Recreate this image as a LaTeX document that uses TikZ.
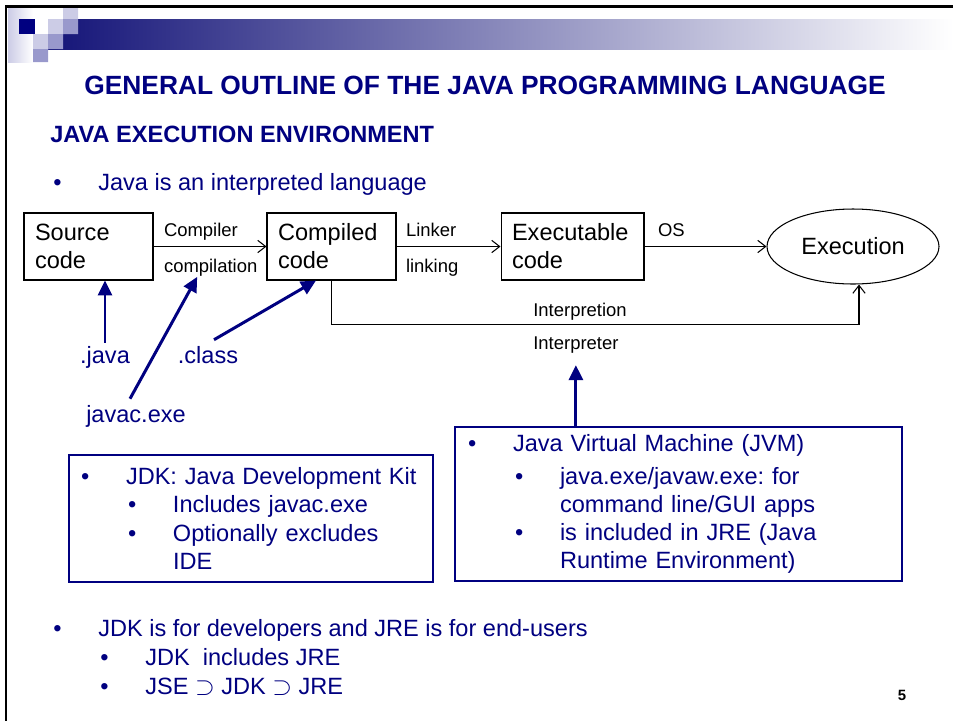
\documentclass[tikz,border=0pt]{standalone}
\usepackage{fontspec}
\setmainfont{Liberation Sans}
\usetikzlibrary{arrows.meta,positioning,shapes.geometric}

\definecolor{navy}{RGB}{0,0,128}
\definecolor{lilac}{RGB}{204,204,230}
\definecolor{midblue}{RGB}{153,153,204}
\definecolor{barblue}{RGB}{20,20,120}
\definecolor{barmid}{RGB}{170,170,200}

\frenchspacing
\newcommand{\bodyfont}{\fontsize{13.4pt}{16pt}\selectfont}
\newcommand{\smallfont}{\fontsize{10.5pt}{13pt}\selectfont}
\newcommand{\itm}[1]{\makebox[0.9cm][l]{\textbullet}#1}
\newcommand{\subitm}[1]{\hspace*{0.94cm}\itm{#1}}
\newcommand{\cont}[1]{\hspace*{1.84cm}#1}

\begin{document}
\begin{tikzpicture}[x=0.02cm,y=-0.02cm,
  codebox/.style={draw,line width=0.6pt,minimum width=2.58cm,minimum height=1.34cm,
    inner xsep=0.22cm,text width=2.14cm,align=left,font=\bodyfont},
  execnode/.style={draw,ellipse,line width=0.6pt,minimum width=3.44cm,minimum height=1.5cm,font=\bodyfont},
  flow/.style={draw,line width=0.6pt,-{Straight Barb[length=4.5pt,width=7pt]}},
  jarrow/.style={draw=navy,line width=1.7pt,-{Triangle[length=8.5pt,width=8pt]}},
  lbl/.style={font=\smallfont,inner sep=0pt,anchor=base west},
  bluetxt/.style={font=\bodyfont,text=navy},
  slidetxt/.style={font=\bodyfont,text=navy,inner sep=0pt,anchor=base west},
  titletxt/.style={font=\fontsize{15pt}{18pt}\selectfont\bfseries,text=navy,inner sep=0pt},
  infobox/.style={draw=navy,line width=1.4pt,text=navy,font=\bodyfont,align=left,inner xsep=0.24cm}]
  \useasboundingbox (0,0) rectangle (953,721);

  % slide header
  \shade[left color=barblue,middle color=barmid,right color=white] (48,19) rectangle (953,49);
  \shade[left color=lilac,right color=white] (8,7) rectangle (33,62);
  \fill[navy] (19,19) rectangle (35,34);
  \fill[lilac] (63,6) rectangle (78,19) (48,19) rectangle (63,34) (33,34) rectangle (48,49);
  \fill[midblue] (63,19) rectangle (78,34) (48,34) rectangle (63,49) (33,49) rectangle (48,62);
  \draw[line width=0.06cm] (953,6) -| (6,721);

  \node[titletxt,anchor=base] (title) at (485,94) {GENERAL OUTLINE OF THE JAVA PROGRAMMING LANGUAGE};
  \node[titletxt,font=\bodyfont\bfseries,anchor=base west] (sub) at (50,142) {JAVA EXECUTION ENVIRONMENT};
  \node[slidetxt] (intro) at (53,190) {\itm{Java is an interpreted language}};

  % pipeline
  \node[codebox] (src) at (88.5,246.5) {Source\\code};
  \node[codebox,right=2.26cm of src] (cmp) {Compiled\\code};
  \node[codebox,minimum width=2.86cm,text width=2.42cm,right=2.08cm of cmp] (exe) {Executable\\code};
  \node[execnode,right=2.44cm of exe] (ex) {Execution};

  \draw[flow] (src) -- node[lbl,at start,xshift=0.2cm,yshift=0.2cm] (cmpr) {Compiler}
    node[lbl,at start,xshift=0.2cm,yshift=-0.52cm] (cmpn) {compilation} (cmp);
  \draw[flow] (cmp) -- node[lbl,at start,xshift=0.18cm,yshift=0.2cm] (lnkr) {Linker}
    node[lbl,at start,xshift=0.18cm,yshift=-0.52cm] (lnkg) {linking} (exe);
  \draw[flow] (exe) -- node[lbl,at start,xshift=0.26cm,yshift=0.2cm] (os) {OS} (ex);
  \draw[flow] (cmp.south) -- ++(0,44) -| ([xshift=0.12cm]ex.south);
  \node[lbl] (intp) at (533,316) {Interpretion};
  \node[lbl] (itr) at (533,349) {Interpreter};

  % files and tools
  \node[bluetxt,anchor=base] (jav) at (105,363) {.java};
  \node[bluetxt,anchor=base] (cls) at (208,363) {.class};
  \node[bluetxt,anchor=base] (jc) at (136,422) {javac.exe};
  \draw[jarrow] ([yshift=-0.06cm]jav.north) -- (jav.north |- src.south);
  \draw[jarrow] ([xshift=-0.12cm]jc.north) -- ([xshift=-0.27cm]cmpn.south);
  \draw[jarrow] ([xshift=0.12cm]cls.north) -- ([xshift=-0.31cm]cmp.south);

  \node[infobox,text width=6.8cm,minimum height=2.54cm] (jdk) at (251,518.5)
    {\itm{JDK: Java Development Kit}\\
     \subitm{Includes javac.exe}\\
     \subitm{Optionally excludes}\\
     \cont{IDE}};
  \node[infobox,inner xsep=0.26cm,text width=8.42cm,minimum height=3.08cm] (jvm) at (678.5,504)
    {\itm{Java Virtual Machine (JVM)}\\[3pt]
     \subitm{java.exe/javaw.exe: for}\\
     \cont{command line/GUI apps}\\
     \subitm{is included in JRE (Java}\\
     \cont{Runtime Environment)}};
  \draw[jarrow] (jvm.north -| itr.south) -- ([yshift=-0.24cm]itr.south);

  % closing bullets
  \node[slidetxt] (use) at (53,636) {\itm{JDK is for developers and JRE is for end-users}};
  \node[slidetxt] (incl) at (100,665) {\itm{JDK\ \ includes JRE}};
  \node[slidetxt] (jse) at (100,694) {\itm{JSE $\supset$ JDK $\supset$ JRE}};
  \node[font=\fontsize{8.5pt}{10pt}\selectfont\bfseries,anchor=base] (pg) at (902,700) {5};
\end{tikzpicture}
\end{document}
